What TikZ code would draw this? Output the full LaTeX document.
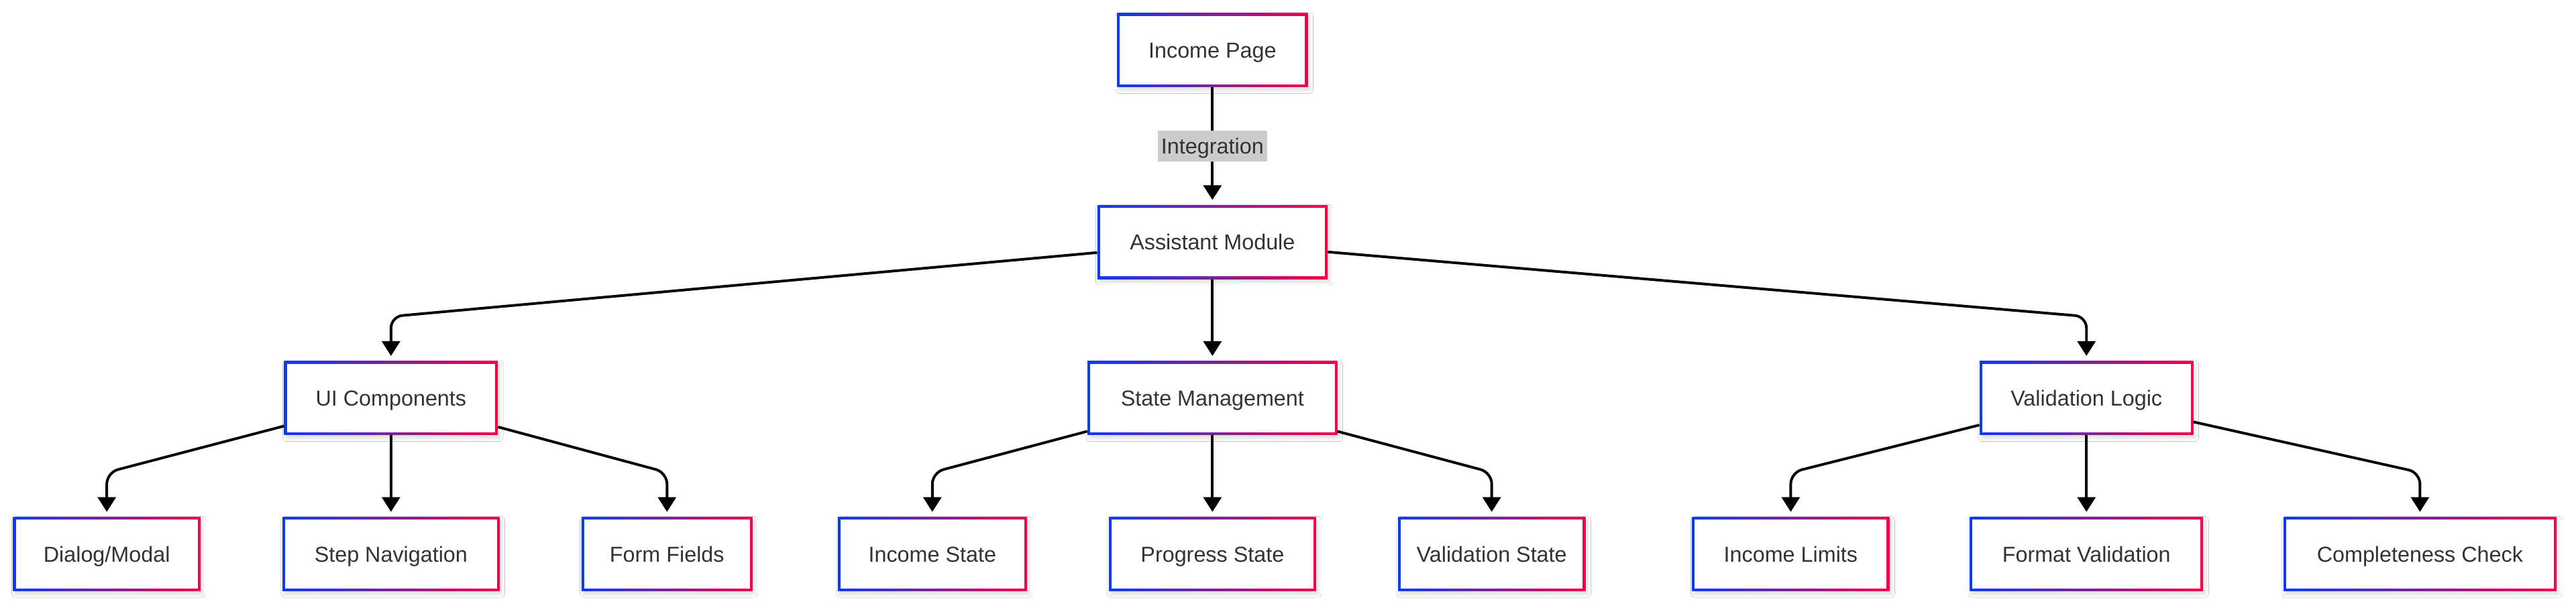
\documentclass[tikz,border=0pt]{standalone}
\usepackage{fontspec}
\setmainfont{Liberation Sans}
\usetikzlibrary{arrows.meta,shadows.blur,calc}
\definecolor{gblue}{HTML}{0A3CF0}
\definecolor{gred}{HTML}{F5004A}
\definecolor{txt}{HTML}{333333}
\definecolor{lbl}{HTML}{CCCCCC}
\begin{document}
\begin{tikzpicture}[x=1pt,y=-1pt,
  box/.style={rectangle, sharp corners, minimum height=45pt, inner sep=0pt,
    text height=9.5pt, text depth=0pt,
    left color=gblue, right color=gred, text=txt,
    font=\fontsize{13.2}{15}\selectfont,
    blur shadow={shadow xshift=1.2pt,shadow yshift=-1.8pt,shadow opacity=15,shadow blur steps=6},
    path picture={\fill[white] ([shift={(1.6pt,1.6pt)}]path picture bounding box.south west) rectangle ([shift={(-1.6pt,-1.6pt)}]path picture bounding box.north east);}},
  edge/.style={line width=1.6pt, black, -{Triangle[width=11pt,length=9pt]}, rounded corners=7pt, shorten >=3pt},
  lab/.style={rectangle, sharp corners, fill=lbl, text=txt, font=\fontsize{13.2}{15}\selectfont,
    text height=9.5pt, text depth=0pt, inner xsep=2pt, inner ysep=0pt, minimum height=19pt}]
\useasboundingbox[fill=white] (0,0) rectangle (1568,370);

\node[box, minimum width=116pt] (IP) at (738,30.5) {Income Page};
\node[box, minimum width=140pt] (AM) at (738,147.5) {Assistant Module};

\node[box, minimum width=130pt] (UI) at (238,242.5) {UI Components};
\node[box, minimum width=152pt] (SM) at (738,242.5) {State Management};
\node[box, minimum width=130pt] (VL) at (1270,242.5) {Validation Logic};

\node[box, minimum width=114pt] (DM) at (65,337.5) {Dialog/Modal};
\node[box, minimum width=132pt] (SN) at (238,337.5) {Step Navigation};
\node[box, minimum width=104pt] (FF) at (406,337.5) {Form Fields};
\node[box, minimum width=115pt] (IS) at (567.5,337.5) {Income State};
\node[box, minimum width=126pt] (PS) at (738,337.5) {Progress State};
\node[box, minimum width=114pt] (VS) at (908,337.5) {Validation State};
\node[box, minimum width=120pt] (IL) at (1090,337.5) {Income Limits};
\node[box, minimum width=142pt] (FV) at (1270,337.5) {Format Validation};
\node[box, minimum width=166pt] (CC) at (1473,337.5) {Completeness Check};

\draw[edge] (IP) -- node[lab] (LI) {Integration} (AM);

\draw[edge] (AM) -- ([yshift=27pt]UI.north) -- (UI.north);
\draw[edge] (AM) -- (SM);
\draw[edge] (AM) -- ([yshift=27pt]VL.north) -- (VL.north);

\draw[edge] (UI) -- ([yshift=27pt]DM.north) -- (DM.north);
\draw[edge] (UI) -- (SN);
\draw[edge] (UI) -- ([yshift=27pt]FF.north) -- (FF.north);

\draw[edge] (SM) -- ([yshift=27pt]IS.north) -- (IS.north);
\draw[edge] (SM) -- (PS);
\draw[edge] (SM) -- ([yshift=27pt]VS.north) -- (VS.north);

\draw[edge] (VL) -- ([yshift=27pt]IL.north) -- (IL.north);
\draw[edge] (VL) -- (FV);
\draw[edge] (VL) -- ([yshift=27pt]CC.north) -- (CC.north);
\end{tikzpicture}
\end{document}
